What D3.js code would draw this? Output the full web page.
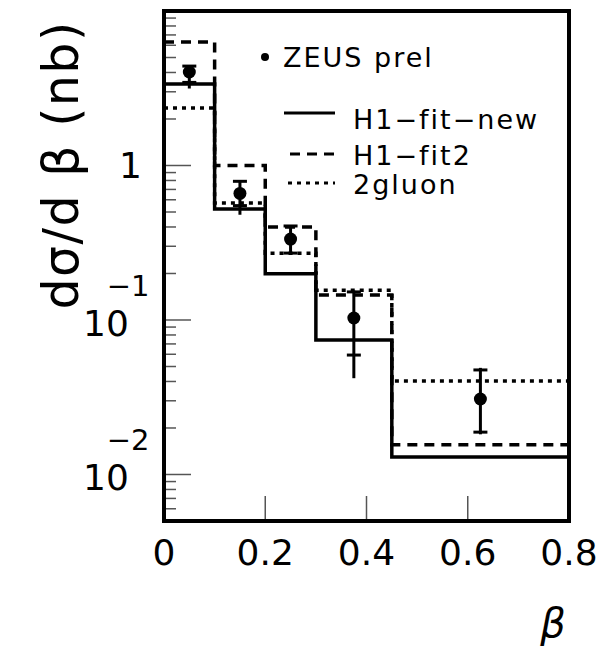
<!DOCTYPE html>
<html>
<head>
<meta charset="utf-8">
<script src="https://cdn.jsdelivr.net/npm/d3@7"></script>
<style>
  body { margin: 0; background: #fff; }
  text { font-family: "DejaVu Sans", sans-serif; fill: #000; }
</style>
</head>
<body>
<div id="drawArea"></div>
<script>
// bin edges in beta and the three model histograms (nb)
var binEdges = [0, 0.1, 0.2, 0.3, 0.45, 0.8];
var h1FitNew = [3.37, 0.523, 0.199, 0.0742, 0.013];
var h1Fit2   = [6.3, 1.0, 0.40, 0.145, 0.0156];
var twoGluon = [2.36, 0.572, 0.27, 0.156, 0.0403];

// ZEUS prel points: value, stat errors (with bar ends), total errors
var zeusBeta   = [0.05, 0.15, 0.25, 0.375, 0.625];
var zeusVal    = [4.03, 0.66, 0.334, 0.103, 0.0308];
var zeusStatUp = [4.4, 0.79, 0.406, 0.152, 0.0475];
var zeusStatDn = [3.45, 0.55, 0.271, 0.0593, 0.0188];
var zeusTotUp  = [4.47, 0.80, 0.41, 0.155, 0.049];
var zeusTotDn  = [3.15, 0.48, 0.265, 0.042, 0.0182];

var xTickVals = [0, 0.2, 0.4, 0.6, 0.8];
var xTickText = ["0", "0.2", "0.4", "0.6", "0.8"];
var yLabelVals = [1, 0.1, 0.01];
var yLabelExp  = ["", "\u22121", "\u22122"];

var legendNames = ["H1\u2212fit\u2212new", "H1\u2212fit2", "2gluon"];

var margin = {top: 11, right: 30, bottom: 130, left: 164},
    width = 599 - margin.left - margin.right,
    height = 651 - margin.top - margin.bottom;

var svg = d3.select("#drawArea").append("svg")
  .attr("width", 599).attr("height", 651);
var g = svg.append("g")
  .attr("transform", "translate(" + margin.left + "," + margin.top + ")");

var x = d3.scaleLinear().domain([0, 0.8]).range([0, width]);
var y = d3.scaleLog().domain([0.005, 10]).range([height, 0]);

// y ticks, inside the frame
y.ticks().forEach(function(t) {
  var major = yLabelVals.some(function(v) { return Math.abs(v - t) / v < 1e-6; });
  g.append("line")
    .attr("x1", 0).attr("x2", major ? 27 : 12)
    .attr("y1", y(t)).attr("y2", y(t))
    .attr("stroke", "#555").attr("stroke-width", 1.5);
});
// x ticks, inside
xTickVals.slice(1, -1).forEach(function(t) {
  g.append("line")
    .attr("x1", x(t)).attr("x2", x(t))
    .attr("y1", height).attr("y2", height - 25)
    .attr("stroke", "#555").attr("stroke-width", 1.5);
});

// histograms
function steps(vals) {
  var pts = vals.map(function(v, i) { return [binEdges[i], v]; });
  pts.push([binEdges[binEdges.length - 1], vals[vals.length - 1]]);
  return pts;
}
var line = d3.line()
  .x(function(d) { return x(d[0]); })
  .y(function(d) { return y(d[1]); })
  .curve(d3.curveStepAfter);

var styles = [
  {data: h1FitNew, dash: null},
  {data: h1Fit2, dash: "10,7"},
  {data: twoGluon, dash: "4,5"}
];
styles.forEach(function(s) {
  g.append("path")
    .attr("d", line(steps(s.data)))
    .attr("fill", "none").attr("stroke", "#000")
    .attr("stroke-width", 3.5)
    .attr("stroke-dasharray", s.dash);
});

// data points
zeusBeta.forEach(function(b, i) {
  var cx = x(b);
  g.append("line").attr("x1", cx).attr("x2", cx)
    .attr("y1", y(zeusTotUp[i])).attr("y2", y(zeusTotDn[i]))
    .attr("stroke", "#000").attr("stroke-width", 3);
  [zeusStatUp[i], zeusStatDn[i]].forEach(function(v) {
    g.append("line").attr("x1", cx - 7).attr("x2", cx + 7)
      .attr("y1", y(v)).attr("y2", y(v))
      .attr("stroke", "#000").attr("stroke-width", 3);
  });
  g.append("circle").attr("cx", cx).attr("cy", y(zeusVal[i])).attr("r", 6.5);
});

// frame
g.append("rect").attr("width", width).attr("height", height)
  .attr("fill", "none").attr("stroke", "#000").attr("stroke-width", 4);

// x tick labels
xTickVals.forEach(function(t, i) {
  svg.append("text")
    .attr("x", margin.left + x(t)).attr("y", 565)
    .attr("text-anchor", "middle").attr("font-size", 36)
    .text(xTickText[i]);
});

// y tick labels (one text each, exponent as raised tspan)
yLabelVals.forEach(function(v, i) {
  var yy = margin.top + y(v);
  if (yLabelExp[i] === "") {
    svg.append("text").attr("x", 142).attr("y", yy + 13)
      .attr("text-anchor", "end").attr("font-size", 36).text("1");
  } else {
    var t = svg.append("text").attr("x", 83).attr("y", yy + 16)
      .attr("font-size", 36);
    t.append("tspan").text("10");
    t.append("tspan").attr("dx", -22).attr("dy", -40)
      .attr("font-size", 29).text(yLabelExp[i]);
  }
});

// axis titles
svg.append("text")
  .attr("transform", "translate(78,165) rotate(-90)")
  .attr("text-anchor", "middle").attr("font-size", 49)
  .attr("letter-spacing", 1.5)
  .text("d\u03c3/d \u03b2 (nb)");
svg.append("text")
  .attr("x", 553).attr("y", 637).attr("text-anchor", "middle")
  .attr("font-size", 40).attr("font-style", "italic")
  .text("\u03b2");

// legend
svg.append("circle").attr("cx", 265).attr("cy", 57).attr("r", 4);
svg.append("text").attr("x", 283).attr("y", 67)
  .attr("font-size", 27).attr("letter-spacing", 2).text("ZEUS prel");
var legY = [113, 154, 183];
var legX1 = [284, 290, 288];
var legBase = [129, 165, 194];
styles.forEach(function(s, i) {
  svg.append("line")
    .attr("x1", legX1[i]).attr("x2", 335)
    .attr("y1", legY[i]).attr("y2", legY[i])
    .attr("stroke", "#000").attr("stroke-width", 3)
    .attr("stroke-dasharray", s.dash);
  svg.append("text").attr("x", 353).attr("y", legBase[i])
    .attr("font-size", 27).attr("letter-spacing", 2).text(legendNames[i]);
});
</script>
</body>
</html>
